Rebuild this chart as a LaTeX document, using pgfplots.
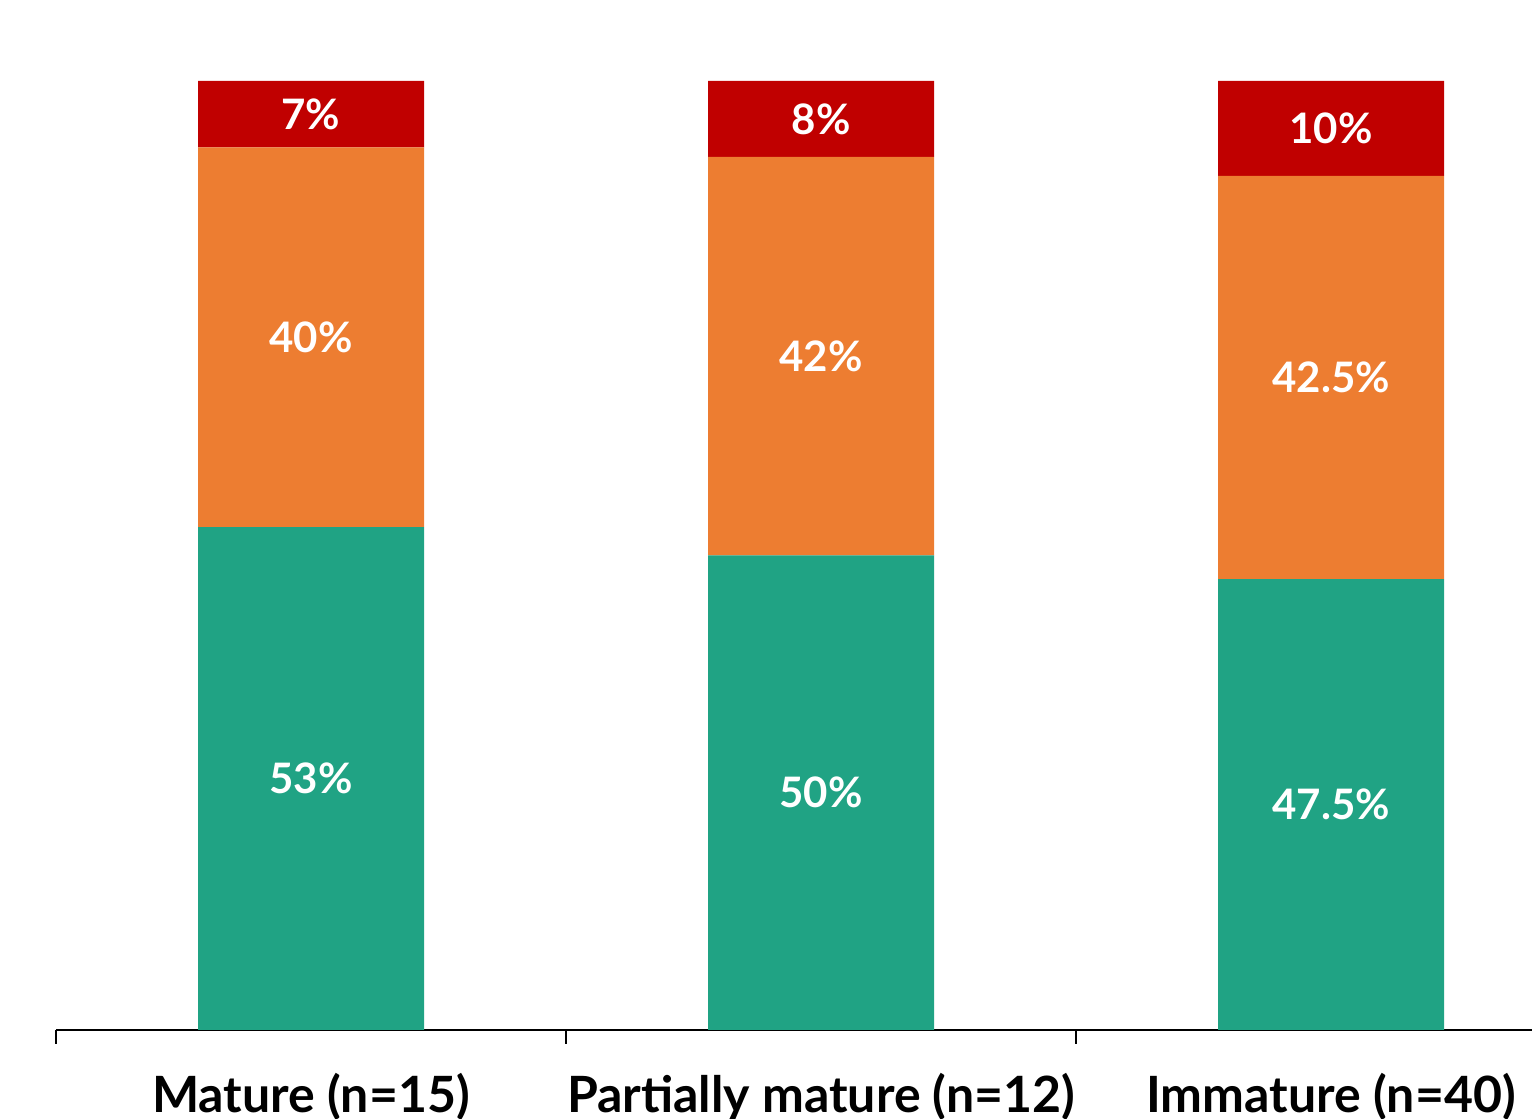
\documentclass[border=0pt]{standalone}
\usepackage{pgfplots}
\pgfplotsset{compat=1.18}
\usepackage{fontspec}
\setmainfont{Lato}
\definecolor{barred}{HTML}{C00000}
\definecolor{barorange}{HTML}{ED7D31}
\definecolor{bargreen}{HTML}{20A384}
\tikzset{seglabel/.style={text=white, font=\fontsize{21}{25}\selectfont\bfseries}}

\begin{document}
\begin{tikzpicture}
\path[use as bounding box, clip] (0,0) rectangle (766pt,559.5pt);
\begin{axis}[
  at={(28pt,44.5pt)}, anchor=south west,
  scale only axis, width=738pt, height=474.5pt,
  xmin=-0.5, xmax=2.394, ymin=0, ymax=100,
  ybar stacked, bar width=113pt,
  axis x line*=bottom, axis y line=none,
  axis line style={black, line width=0.8pt},
  xtick={0,1,2},
  xticklabels={Mature (n=15), Partially mature (n=12), Immature (n=40)},
  major tick length=0pt,
  minor xtick={-0.5,0.5,1.5},
  minor tick length=7pt,
  tick align=outside,
  xtick style={black, line width=0.8pt},
  xticklabel style={font=\fontsize{25}{30}\selectfont\bfseries, yshift=-18pt},
  ytick=\empty,
  clip=false,
]
\addplot[fill=bargreen, draw=none] coordinates {(0,53) (1,50) (2,47.5)};
\addplot[fill=barorange, draw=none] coordinates {(0,40) (1,42) (2,42.5)};
\addplot[fill=barred, draw=none] coordinates {(0,7) (1,8) (2,10)};
% middle of each stacked segment
\coordinate (a1) at (axis cs:0,26.5);
\coordinate (a2) at (axis cs:0,73);
\coordinate (a3) at (axis cs:0,96.5);
\coordinate (b1) at (axis cs:1,25);
\coordinate (b2) at (axis cs:1,71);
\coordinate (b3) at (axis cs:1,96);
\coordinate (c1) at (axis cs:2,23.75);
\coordinate (c2) at (axis cs:2,68.75);
\coordinate (c3) at (axis cs:2,95);
\end{axis}
\node[seglabel] at (a1) {53\%};
\node[seglabel] at (a2) {40\%};
\node[seglabel] at (a3) {7\%};
\node[seglabel] at (b1) {50\%};
\node[seglabel] at (b2) {42\%};
\node[seglabel] at (b3) {8\%};
\node[seglabel] at (c1) {47.5\%};
\node[seglabel] at (c2) {42.5\%};
\node[seglabel] at (c3) {10\%};
\end{tikzpicture}
\end{document}
